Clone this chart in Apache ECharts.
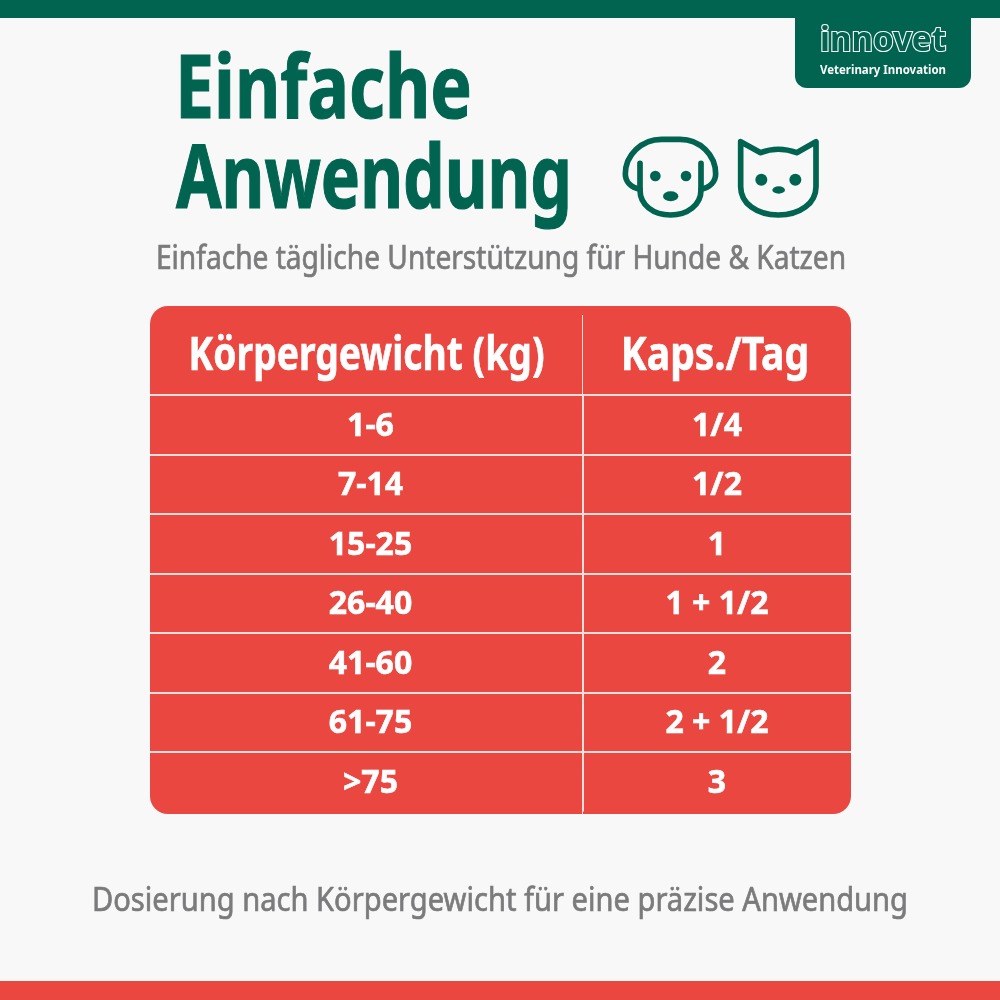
<!DOCTYPE html>
<html>
<head>
<meta charset="utf-8">
<title>Einfache Anwendung</title>
<script src="https://cdn.jsdelivr.net/npm/echarts@6/dist/echarts.min.js"></script>
<style>
  html, body { margin: 0; padding: 0; background: #f8f8f8; }
  #main { width: 1000px; height: 1000px; }
</style>
</head>
<body>
<div id="main"></div>
<script>
// table content
var tableHeaders = ['Körpergewicht (kg)', 'Kaps./Tag']
var weightRanges = ['1-6', '7-14', '15-25', '26-40', '41-60', '61-75', '>75']
var capsulesPerDay = ['1/4', '1/2', '1', '1 + 1/2', '2', '2 + 1/2', '3']

var titleLines = ['Einfache', 'Anwendung']
var subtitle = 'Einfache tägliche Unterstützung für Hunde & Katzen'
var footer = 'Dosierung nach Körpergewicht für eine präzise Anwendung'

var GREEN = '#006450'
var RED = '#ea4741'
var GREY = '#7b7b7d'
var LINE = '#fbdedb'
var FONT = '"Noto Sans", sans-serif'
var columnEdges = [0, 433, 701]
var CORNER = 18
var LAST_ROW_EXTRA = 2.5 // bottom row is a little taller than the others

// squeeze the text to the width it has in the picture
var measureCtx = document.createElement('canvas').getContext('2d')
function textItem(str, left, midY, size, weight, width, color, extra) {
  measureCtx.font = weight + ' ' + size + 'px "Noto Sans"'
  var item = {
    type: 'text',
    z: 2,
    x: left,
    y: midY,
    scaleX: width / measureCtx.measureText(str).width,
    style: {
      text: str,
      x: 0,
      y: 0,
      fill: color,
      font: weight + ' ' + size + 'px ' + FONT,
      textAlign: 'left',
      textVerticalAlign: 'middle'
    }
  }
  if (extra) Object.assign(item.style, extra)
  return item
}

function dot(cx, cy, rx, ry) {
  return 'M' + (cx - rx) + ' ' + cy + 'a' + rx + ' ' + ry + ' 0 1 0 ' + 2 * rx + ' 0a' + rx + ' ' + ry + ' 0 1 0 ' + -2 * rx + ' 0Z'
}

// dog and cat, path numbers are in 3x units
var iconStrokes = [
  'M120 490L120 570C120 615 160 645 212 645C262 645 303 615 303 570L303 490',
  'M120 568C92 562 76 545 76 522C76 465 125 418 185 418L240 418C300 418 347 465 347 522C347 545 330 562 303 568',
  'M422 425L482 458C515 445 555 445 590 458L648 425L648 560C648 610 600 645 535 645C470 645 422 610 422 560Z'
]
var iconFills = [
  dot(166, 528, 16, 16), dot(258, 528, 16, 16), dot(212, 589, 23, 15),
  dot(484, 539, 18, 18), dot(586, 539, 18, 18), dot(536, 570, 19, 11)
]

function renderIcons() {
  var children = []
  iconStrokes.forEach(function (d) {
    children.push({ type: 'path', shape: { pathData: d }, style: { fill: 'none', stroke: GREEN, lineWidth: 17, lineJoin: 'round', lineCap: 'round' } })
  })
  iconFills.forEach(function (d) {
    children.push({ type: 'path', shape: { pathData: d }, style: { fill: GREEN, stroke: 'none' } })
  })
  return { type: 'group', x: 600, y: 0, scaleX: 1 / 3, scaleY: 1 / 3, children: children }
}

function cellRenderer(texts, fontSize, isHeader) {
  return function (params, api) {
    var col = api.value(0)
    var row = api.value(1)
    var center = api.coord([0, row])
    var bandH = api.size([0, 1])[1]
    var x0 = api.coord([columnEdges[col], row])[0]
    var x1 = api.coord([columnEdges[col + 1], row])[0]
    var top = center[1] - bandH / 2
    var isLast = !isHeader && row === weightRanges.length - 1
    var r = [0, 0, 0, 0]
    if (isHeader) r = col === 0 ? [CORNER, 0, 0, 0] : [0, CORNER, 0, 0]
    else if (isLast) r = col === 0 ? [0, 0, 0, CORNER] : [0, 0, CORNER, 0]
    var cellH = isLast ? bandH + LAST_ROW_EXTRA : bandH
    // labels do not sit dead centre in their cells
    var textX = (x0 + x1) / 2
    if (isHeader) textX += col === 0 ? 0 : -2
    else textX += col === 0 ? 4 : 0
    var children = [{
      type: 'rect',
      shape: { x: x0, y: top, width: x1 - x0, height: cellH, r: r },
      style: { fill: RED }
    }, {
      type: 'text',
      x: textX,
      y: center[1] + (isHeader ? 6 : 2),
      scaleX: isHeader ? (col === 0 ? 0.81 : 0.85) : 1,
      style: {
        text: texts[col][row],
        x: 0,
        y: 0,
        fill: '#ffffff',
        stroke: '#ffffff',
        lineWidth: 0.6,
        font: 'bold ' + fontSize + 'px ' + FONT,
        textAlign: 'center',
        textVerticalAlign: 'middle'
      }
    }]
    if (col === 0 && (isHeader || isLast)) {
      children.push({
        type: 'line',
        shape: { x1: x1, y1: isHeader ? top + 9 : top, x2: x1, y2: top + cellH },
        style: { stroke: LINE, lineWidth: 2 }
      })
    }
    return { type: 'group', children: children }
  }
}

var headerCells = tableHeaders.map(function (h, c) { return [c, 0] })
var bodyCells = []
weightRanges.forEach(function (w, r) {
  bodyCells.push([0, r])
  bodyCells.push([1, r])
})

var hiddenAxisBits = { axisLine: { show: false }, axisTick: { show: false }, axisLabel: { show: false } }

var myChart = echarts.init(document.getElementById('main'), null, { renderer: 'canvas' })
myChart.setOption({
  animation: false,
  backgroundColor: '#f8f8f8',
  grid: [
    { left: 150, top: 306, width: 701, height: 89 },
    { left: 150, top: 395, width: 701, height: 416.5 }
  ],
  xAxis: [
    Object.assign({ type: 'value', gridIndex: 0, min: 0, max: 701, splitLine: { show: false } }, hiddenAxisBits),
    Object.assign({
      type: 'value', gridIndex: 1, min: 0, max: 701, interval: columnEdges[1], z: 3,
      splitLine: { show: true, showMinLine: false, showMaxLine: false, lineStyle: { color: LINE, width: 2 } }
    }, hiddenAxisBits)
  ],
  yAxis: [
    Object.assign({ type: 'category', gridIndex: 0, data: ['header'], splitLine: { show: false } }, hiddenAxisBits),
    Object.assign({
      type: 'category', gridIndex: 1, data: weightRanges, inverse: true, z: 3,
      splitLine: { show: true, showMinLine: true, showMaxLine: false, lineStyle: { color: LINE, width: 2 } }
    }, hiddenAxisBits)
  ],
  series: [
    {
      type: 'custom', xAxisIndex: 0, yAxisIndex: 0, silent: true, z: 2, clip: false,
      renderItem: cellRenderer([[tableHeaders[0]], [tableHeaders[1]]], 46, true),
      data: headerCells
    },
    {
      type: 'custom', xAxisIndex: 1, yAxisIndex: 1, silent: true, z: 2, clip: false,
      renderItem: cellRenderer([weightRanges, capsulesPerDay], 32, false),
      data: bodyCells
    },
    {
      type: 'custom', coordinateSystem: 'none', silent: true, z: 4,
      renderItem: renderIcons,
      data: [[0]]
    }
  ],
  graphic: [
    { type: 'rect', z: 1, shape: { x: 0, y: 0, width: 1000, height: 18 }, style: { fill: GREEN } },
    { type: 'rect', z: 1, shape: { x: 0, y: 981, width: 1000, height: 19 }, style: { fill: RED } },
    { type: 'rect', z: 1, shape: { x: 795, y: 16, width: 176, height: 72, r: [0, 0, 12, 12] }, style: { fill: GREEN } },
    textItem('innovet', 820, 41, 34, 'bold', 126, GREEN, { stroke: '#ffffff', lineWidth: 2.2 }),
    textItem('Veterinary Innovation', 820, 70, 13, 'bold', 126, '#ffffff'),
    textItem(titleLines[0], 175, 93, 87, 'bold', 297, GREEN, { stroke: GREEN, lineWidth: 1.2 }),
    textItem(titleLines[1], 176, 183, 87, 'bold', 396, GREEN, { stroke: GREEN, lineWidth: 1.2 }),
    textItem(subtitle, 156, 260, 33, 'normal', 690, GREY, { stroke: GREY, lineWidth: 0.7 }),
    textItem(footer, 92, 902, 33, 'normal', 816, GREY, { stroke: GREY, lineWidth: 0.7 })
  ]
})
</script>
</body>
</html>
